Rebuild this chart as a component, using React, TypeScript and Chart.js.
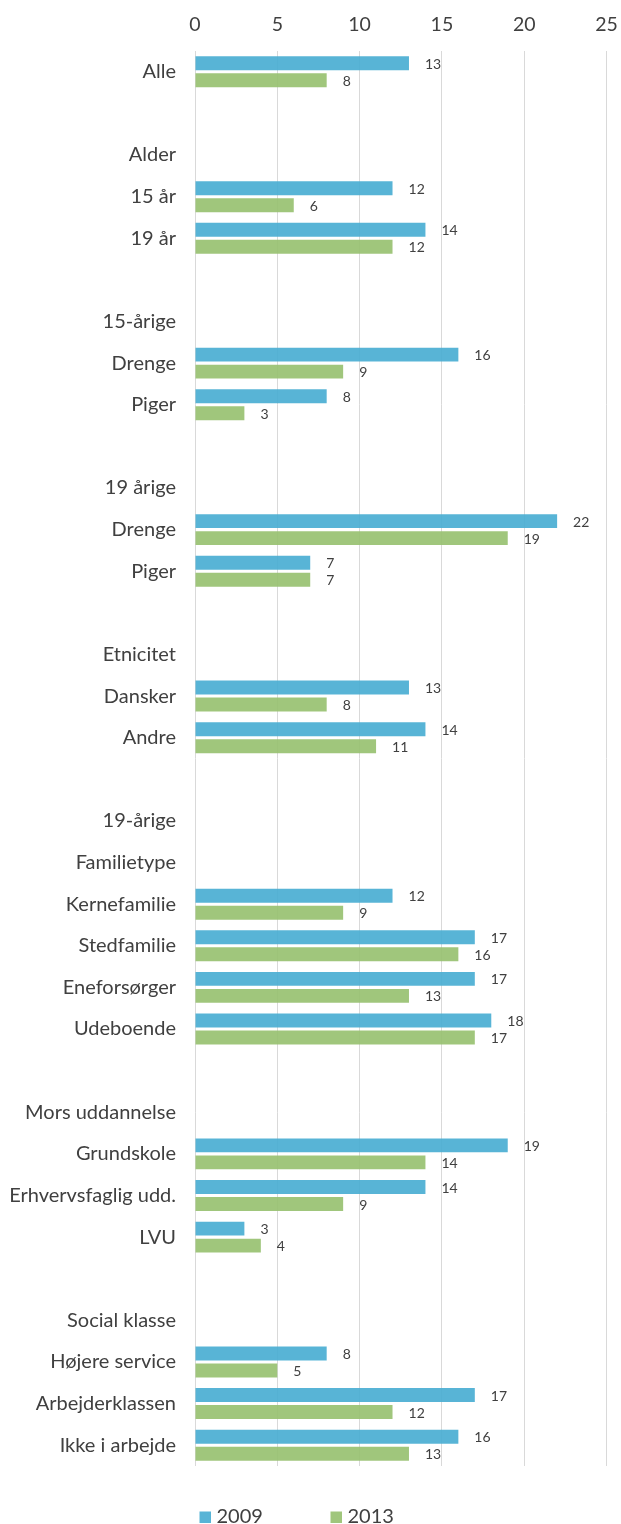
import React, { useEffect, useRef } from "react";
import { Chart, registerables } from "chart.js";

Chart.register(...registerables);

const categories: string[] = [
  "Alle", "", "Alder", "15 år", "19 år", "",
  "15-årige", "Drenge", "Piger", "",
  "19 årige", "Drenge", "Piger", "",
  "Etnicitet", "Dansker", "Andre", "",
  "19-årige", "Familietype", "Kernefamilie", "Stedfamilie", "Eneforsørger", "Udeboende", "",
  "Mors uddannelse", "Grundskole", "Erhvervsfaglig udd.", "LVU", "",
  "Social klasse", "Højere service", "Arbejderklassen", "Ikke i arbejde",
];

const values2009: (number | null)[] = [
  13, null, null, 12, 14, null,
  null, 16, 8, null,
  null, 22, 7, null,
  null, 13, 14, null,
  null, null, 12, 17, 17, 18, null,
  null, 19, 14, 3, null,
  null, 8, 17, 16,
];

const values2013: (number | null)[] = [
  8, null, null, 6, 12, null,
  null, 9, 3, null,
  null, 19, 7, null,
  null, 8, 11, null,
  null, null, 9, 16, 13, 17, null,
  null, 14, 9, 4, null,
  null, 5, 12, 13,
];

const seriesLabels: string[] = ["2009", "2013"];
const xTicksMax = 25;
const xTicksStep = 5;

const FONT = "Lato";
const TEXT = "#404040";
const BLUE = "rgba(70,172,210,0.9)";
const GREEN = "rgba(150,192,110,0.9)";

const valueLabels = {
  id: "valueLabels",
  afterDatasetsDraw(chart: any) {
    const ctx = chart.ctx;
    ctx.save();
    ctx.font = `14px ${FONT}`;
    ctx.fillStyle = TEXT;
    ctx.textAlign = "left";
    ctx.textBaseline = "middle";
    chart.data.datasets.forEach((ds: any, di: number) => {
      const meta = chart.getDatasetMeta(di);
      meta.data.forEach((el: any, i: number) => {
        const v = ds.data[i];
        if (v === null || v === undefined) return;
        ctx.fillText(String(v), el.x + 16, el.y + 1);
      });
    });
    ctx.restore();
  },
};

const bottomLegend = {
  id: "bottomLegend",
  afterDraw(chart: any) {
    const ctx = chart.ctx;
    const area = chart.chartArea;
    ctx.save();
    ctx.font = `20px ${FONT}`;
    ctx.textBaseline = "middle";
    ctx.textAlign = "left";
    const yc = area.bottom + 51;
    let x = area.left + 4.5;
    chart.data.datasets.forEach((ds: any) => {
      ctx.fillStyle = ds.backgroundColor;
      ctx.fillRect(x, yc - 5.5, 11.5, 11.5);
      ctx.fillStyle = TEXT;
      ctx.fillText(ds.label, x + 17, yc);
      x += 131;
    });
    ctx.restore();
  },
};

export default function App() {
  const ref = useRef<HTMLCanvasElement | null>(null);

  useEffect(() => {
    if (!ref.current) return;
    const chart = new Chart(ref.current, {
      type: "bar",
      data: {
        labels: categories,
        datasets: [
          {
            label: seriesLabels[0],
            data: values2009,
            backgroundColor: BLUE,
            borderWidth: 0,
            categoryPercentage: 0.817,
            barPercentage: 0.82,
          },
          {
            label: seriesLabels[1],
            data: values2013,
            backgroundColor: GREEN,
            borderWidth: 0,
            categoryPercentage: 0.817,
            barPercentage: 0.82,
          },
        ],
      },
      options: {
        indexAxis: "y",
        animation: false,
        responsive: false,
        maintainAspectRatio: false,
        layout: { padding: { top: 0, right: 0, bottom: 58, left: 0 } },
        plugins: {
          legend: { display: false },
          tooltip: { enabled: false },
        },
        scales: {
          x: {
            position: "top",
            min: 0,
            max: xTicksMax,
            ticks: {
              stepSize: xTicksStep,
              color: TEXT,
              font: { family: FONT, size: 19.5 },
              padding: 15,
            },
            grid: { color: "#d9d9d9", drawTicks: false, lineWidth: 1 },
            border: { display: false },
            afterFit(scale: any) {
              scale.height = 51;
              scale.paddingLeft = 0;
              scale.paddingRight = 14.5;
            },
          },
          y: {
            ticks: {
              color: TEXT,
              font: { family: FONT, size: 20 },
              padding: 19,
              autoSkip: false,
            },
            grid: { display: false, drawTicks: false },
            border: { display: false },
            afterFit(scale: any) {
              scale.width = 195;
            },
          },
        },
      },
      plugins: [valueLabels, bottomLegend],
    });
    return () => chart.destroy();
  }, []);

  return (
    <div style={{ position: "absolute", left: 0, top: 0, width: 621, height: 1524 }}>
      <canvas ref={ref} width={621} height={1524} style={{ display: "block", width: 621, height: 1524 }} />
    </div>
  );
}
